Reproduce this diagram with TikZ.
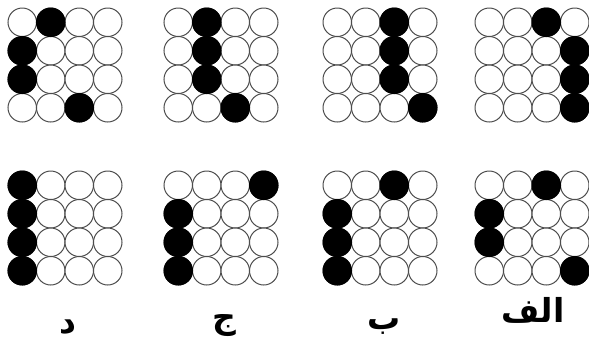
\documentclass[tikz,border=0pt]{standalone}
\usepackage{fontspec}
\newfontfamily\arabicfont[Script=Arabic]{DejaVu Sans}
\TeXXeTstate=1
\tikzset{
  cell/.style={draw=black!70, line width=1pt, fill=white},
  oncell/.style={draw=black, line width=1pt, fill=black},
  lbl/.style={font=\arabicfont\bfseries\fontsize{33}{35}\selectfont, inner sep=0pt, anchor=base}
}
\newcommand\dotgrid[3]{%
  \foreach \r in {0,...,3}{\foreach \c in {0,...,3}{%
    \draw[cell] (#1+14.25+28.5*\c, #2+14.25+28.5*\r) circle[radius=14.25];}}
  \foreach \r/\c in {#3}{%
    \draw[oncell] (#1+14.25+28.5*\c, #2+14.25+28.5*\r) circle[radius=14.25];}
}
\begin{document}
\begin{tikzpicture}[x=1pt,y=-1pt]
\useasboundingbox (0,0) rectangle (589,341);
% top row
\dotgrid{8}{8}{0/1,1/0,2/0,3/2}
\dotgrid{164}{8}{0/1,1/1,2/1,3/2}
\dotgrid{323}{8}{0/2,1/2,2/2,3/3}
\dotgrid{475}{8}{0/2,1/3,2/3,3/3}
% bottom row
\dotgrid{8}{171}{0/0,1/0,2/0,3/0}
\dotgrid{164}{171}{0/3,1/0,2/0,3/0}
\dotgrid{323}{171}{0/2,1/0,2/0,3/0}
\dotgrid{475}{171}{0/2,1/0,2/0,3/3}
% labels
\node[lbl] (d) at (68,333) {\beginR د\endR};
\node[lbl] (j) at (224,328) {\beginR ج\endR};
\node[lbl] (b) at (384,329) {\beginR ب\endR};
\node[lbl] (alef) at (533,322) {\beginR الف\endR};
\end{tikzpicture}
\end{document}
